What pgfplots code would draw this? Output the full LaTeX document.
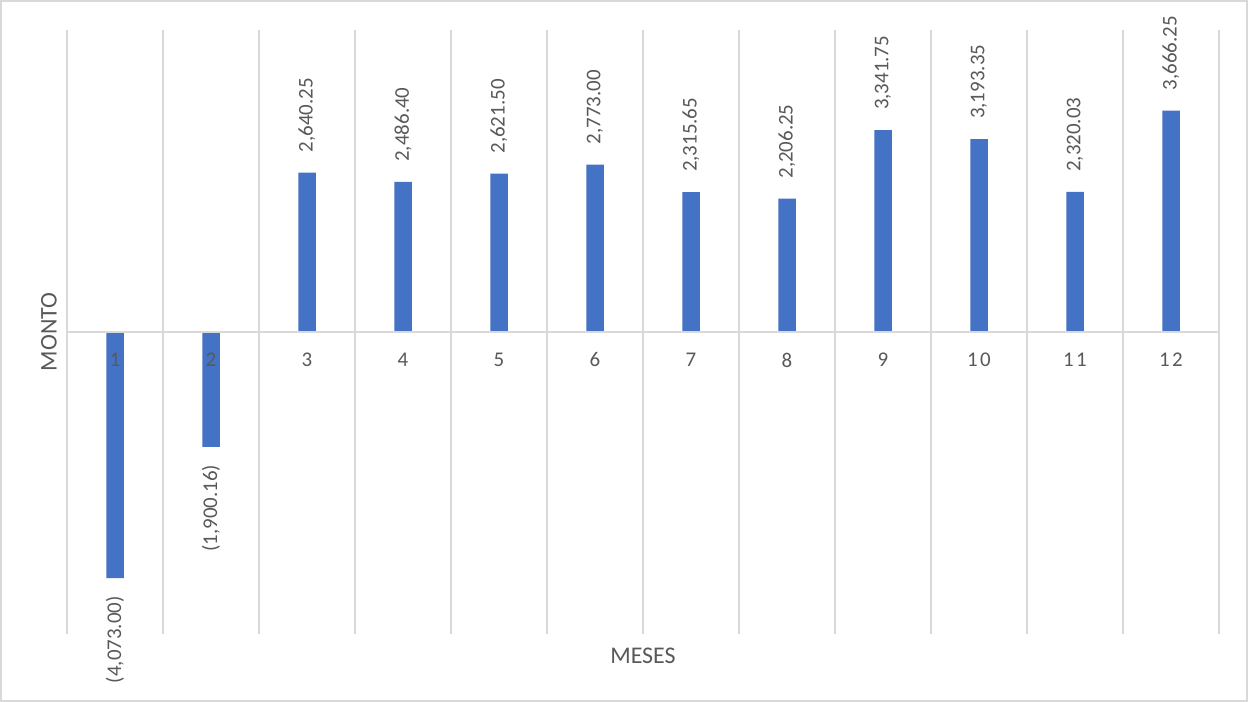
\documentclass[border=0pt]{standalone}
\usepackage{fontspec}
\setmainfont{Carlito}
\usepackage{pgfplots}
\usepackage{pgfplotstable}
\pgfplotsset{compat=1.18}

\definecolor{barblue}{HTML}{4472C4}
\definecolor{gridgray}{HTML}{D9D9D9}
\definecolor{textgray}{HTML}{595959}

% Monto mensual: meses con saldo negativo y positivo
\pgfplotstableread{
mes monto
1 -4073.00
2 -1900.16
}\negativos
\pgfplotstableread{
mes monto
3 2640.25
4 2486.40
5 2621.50
6 2773.00
7 2315.65
8 2206.25
9 3341.75
10 3193.35
11 2320.03
12 3666.25
}\positivos

\begin{document}
\begin{tikzpicture}
\useasboundingbox (-67bp,-68bp) rectangle (1181bp,634bp);
\fill[white] (-67bp,-68bp) rectangle (1181bp,634bp);
\draw[gridgray, line width=1.6bp] (-66.2bp,-67.2bp) rectangle (1180.2bp,633.2bp);
\begin{axis}[
  at={(0,0)}, anchor=south west,
  scale only axis, width=1152bp, height=604bp,
  xmin=0.5, xmax=12.5, ymin=-5000, ymax=5000,
  axis x line*=middle, axis y line=none,
  x axis line style={gridgray, line width=1.3bp},
  axis on top,
  ytick=\empty,
  xtick={1,...,12},
  xticklabels={1,2,3,4,5,6,7,8,9,1\hspace{2.5bp}0,1\hspace{2.5bp}1,1\hspace{2.5bp}2},
  major tick length=0pt, minor tick length=0pt,
  minor xtick={0.5,1.5,...,12.5},
  xminorgrids=true,
  minor x grid style={gridgray, line width=1.3bp},
  xticklabel style={anchor=center, yshift=-28bp, text=textgray,
    font=\fontsize{21}{24}\selectfont},
  ybar, bar width=17.5bp, bar shift=0pt,
  /pgf/number format/assume math mode=true,
  /pgf/number format/.cd, fixed, fixed zerofill, precision=2, 1000 sep={,},
  /pgfplots/.cd,
  clip=false,
]
\addplot[fill=barblue, draw=none,
  point meta={-\thisrow{monto}},
  nodes near coords={(\pgfmathprintnumber{\pgfplotspointmeta})},
  nodes near coords style={rotate=90, anchor=east, inner xsep=18bp, inner ysep=0pt,
    text=textgray, font=\fontsize{21}{24}\selectfont}]
  table[x=mes, y=monto] {\negativos};
\addplot[fill=barblue, draw=none,
  point meta={\thisrow{monto}},
  nodes near coords,
  nodes near coords style={rotate=90, anchor=west, inner xsep=20bp, inner ysep=0pt,
    text=textgray, font=\fontsize{21}{24}\selectfont}]
  table[x=mes, y=monto] {\positivos};
\node[rotate=90, text=textgray, font=\fontsize{24}{28}\selectfont, inner sep=0pt,
  yshift=18bp] at (axis description cs:0,0.5) {MONTO};
\node[text=textgray, font=\fontsize{24}{28}\selectfont, inner sep=0pt]
  at (axis description cs:0.5,0) [yshift=-22bp] {MESES};
\end{axis}
\end{tikzpicture}
\end{document}
